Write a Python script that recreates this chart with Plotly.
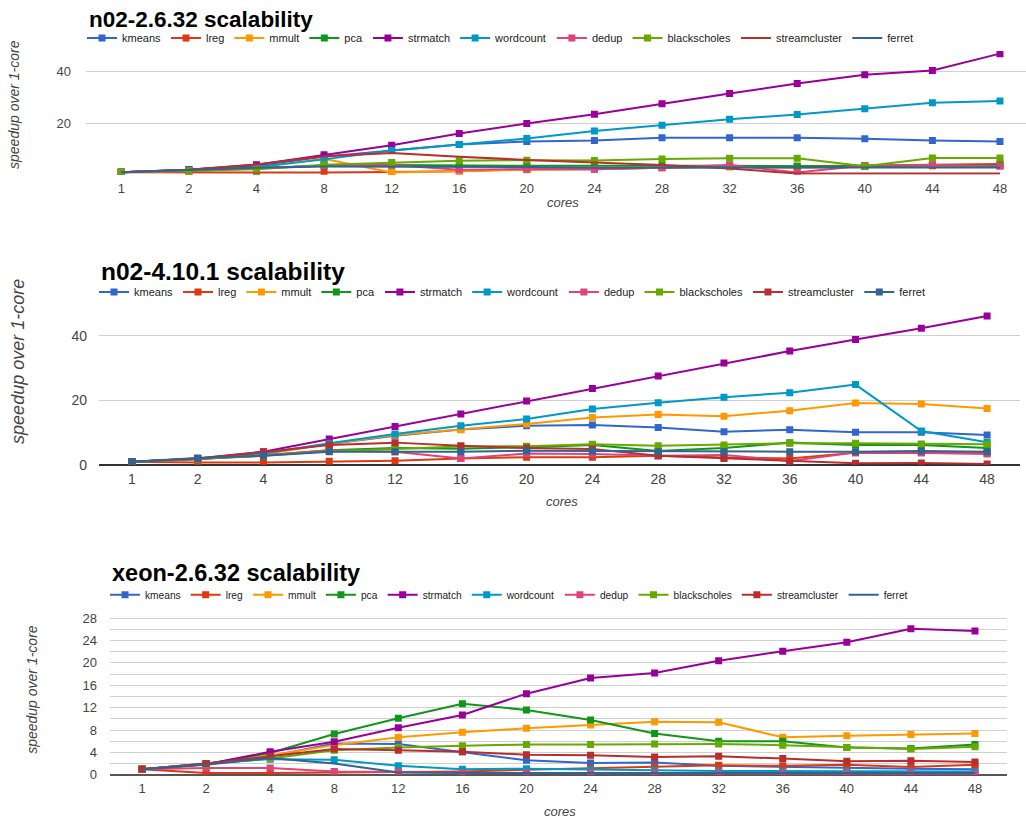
import plotly.graph_objects as go

W, H = 1026, 819
# measured vertical scale of the rendered snapshot (pixels shown / pixels drawn)
VSCALE = 0.9905

cores = ["1", "2", "4", "8", "12", "16", "20", "24", "28", "32", "36", "40", "44", "48"]
series_names = ["kmeans", "lreg", "mmult", "pca", "strmatch", "wordcount",
                "dedup", "blackscholes", "streamcluster", "ferret"]
series_colors = ["#3366cc", "#dc3912", "#ff9900", "#109618", "#990099", "#0099c6",
                 "#dd4477", "#66aa00", "#b82e2e", "#316395"]

# ---- chart 1: n02-2.6.32 ----
c1_kmeans = [1, 2.0, 3.5, 7.0, 9.4, 11.8, 12.9, 13.3, 14.4, 14.4, 14.4, 14.0, 13.3, 12.9]
c1_lreg = [1, 0.9, 0.9, 0.9, 1.1, 1.4, 2.2, 2.2, 2.8, 3.2, 3.3, 3.5, 3.9, 4.2]
c1_mmult = [1, 1.5, 2.8, 6.2, 0.9, 1.5, 2.0, 2.3, 2.8, 3.0, 2.8, 3.2, 3.4, 3.5]
c1_pca = [1, 1.8, 2.8, 3.5, 3.8, 3.6, 3.5, 3.5, 3.6, 3.5, 3.3, 3.3, 3.6, 3.7]
c1_strmatch = [1, 2.0, 3.9, 7.8, 11.5, 16.0, 19.9, 23.5, 27.6, 31.5, 35.4, 38.8, 40.5, 47.0]
c1_wordcount = [1, 1.8, 3.0, 6.0, 9.4, 11.8, 14.1, 17.0, 19.2, 21.6, 23.4, 25.6, 28.0, 28.6]
c1_dedup = [1, 1.5, 2.5, 3.5, 3.8, 2.0, 2.2, 2.2, 2.9, 3.8, 0.9, 3.6, 3.8, 3.3]
c1_blackscholes = [1, 1.6, 2.2, 3.9, 4.8, 5.5, 5.7, 5.6, 6.1, 6.4, 6.4, 3.3, 6.5, 6.5]
c1_streamcluster = [1, 2.0, 4.0, 7.2, 8.5, 7.0, 5.8, 4.8, 3.8, 2.5, 0.5, 0.5, 0.5, 0.5]
c1_ferret = [1, 1.8, 2.8, 3.2, 3.2, 3.2, 3.0, 2.8, 2.9, 2.9, 2.9, 2.9, 2.9, 2.9]

# ---- chart 2: n02-4.10.1 ----
c2_kmeans = [1, 1.8, 3.5, 6.5, 9.0, 11.0, 12.1, 12.4, 11.6, 10.3, 10.9, 10.1, 10.1, 9.3]
c2_lreg = [1, 0.7, 0.7, 1.1, 1.3, 2.0, 2.4, 2.4, 2.8, 2.3, 2.0, 3.8, 3.8, 3.6]
c2_mmult = [1, 1.8, 3.3, 6.5, 9.3, 10.9, 12.7, 14.7, 15.6, 15.1, 16.8, 19.2, 18.9, 17.5]
c2_pca = [1, 1.8, 2.9, 4.5, 5.2, 5.0, 5.5, 6.2, 4.3, 5.2, 6.9, 6.2, 6.2, 5.2]
c2_strmatch = [1, 2.0, 4.1, 8.0, 11.9, 15.8, 19.8, 23.7, 27.6, 31.6, 35.3, 38.9, 42.4, 46.2]
c2_wordcount = [1, 1.8, 3.5, 6.7, 9.6, 12.1, 14.2, 17.3, 19.3, 21.0, 22.4, 24.9, 10.5, 7.0]
c2_dedup = [1, 1.8, 3.0, 4.5, 4.1, 2.0, 3.5, 3.4, 2.8, 3.1, 1.2, 3.8, 3.8, 3.4]
c2_blackscholes = [1, 1.8, 2.8, 4.2, 5.0, 5.7, 5.8, 6.4, 5.9, 6.2, 6.7, 6.7, 6.5, 6.4]
c2_streamcluster = [1, 2.0, 4.0, 6.2, 6.9, 5.9, 5.2, 4.9, 2.8, 2.0, 1.2, 0.5, 0.6, 0.3]
c2_ferret = [1, 2.1, 2.8, 4.1, 4.1, 4.1, 4.4, 4.3, 4.1, 4.1, 4.1, 4.1, 4.3, 4.1]

# ---- chart 3: xeon-2.6.32 ----
c3_kmeans = [1, 2.0, 3.3, 5.6, 5.5, 4.1, 2.6, 2.1, 2.2, 1.6, 1.4, 1.2, 1.1, 1.0]
c3_lreg = [1, 0.3, 0.3, 0.4, 0.4, 0.6, 0.9, 1.2, 1.5, 1.7, 1.6, 1.8, 1.4, 1.8]
c3_mmult = [1, 1.9, 3.5, 5.3, 6.7, 7.6, 8.3, 8.9, 9.5, 9.4, 6.7, 7.0, 7.2, 7.4]
c3_pca = [1, 1.9, 3.9, 7.3, 10.1, 12.7, 11.6, 9.8, 7.4, 6.0, 6.0, 4.9, 4.7, 5.4]
c3_strmatch = [1, 1.9, 4.1, 5.9, 8.4, 10.7, 14.5, 17.3, 18.2, 20.4, 22.1, 23.7, 26.1, 25.7]
c3_wordcount = [1, 2.0, 2.8, 2.7, 1.6, 1.0, 1.1, 0.9, 0.8, 0.7, 0.7, 0.7, 0.7, 0.6]
c3_dedup = [1, 1.2, 1.2, 0.6, 0.5, 0.3, 0.3, 0.3, 0.3, 0.3, 0.3, 0.3, 0.3, 0.2]
c3_blackscholes = [1, 1.9, 2.9, 4.4, 4.9, 5.2, 5.4, 5.4, 5.5, 5.5, 5.3, 4.9, 4.6, 5.0]
c3_streamcluster = [1, 2.0, 3.3, 4.6, 4.4, 4.1, 3.6, 3.5, 3.2, 3.3, 2.9, 2.4, 2.5, 2.3]
c3_ferret = [1, 1.8, 3.0, 2.0, 0.4, 0.3, 0.3, 0.3, 0.3, 0.3, 0.3, 0.3, 0.3, 0.3]

chart_titles = ["n02-2.6.32 scalability", "n02-4.10.1 scalability", "xeon-2.6.32 scalability"]
y_title = "speedup over 1-core"
x_title = "cores"

chart_data = [
    [c1_kmeans, c1_lreg, c1_mmult, c1_pca, c1_strmatch, c1_wordcount, c1_dedup,
     c1_blackscholes, c1_streamcluster, c1_ferret],
    [c2_kmeans, c2_lreg, c2_mmult, c2_pca, c2_strmatch, c2_wordcount, c2_dedup,
     c2_blackscholes, c2_streamcluster, c2_ferret],
    [c3_kmeans, c3_lreg, c3_mmult, c3_pca, c3_strmatch, c3_wordcount, c3_dedup,
     c3_blackscholes, c3_streamcluster, c3_ferret],
]
# series drawn as plain lines (no markers) per chart
no_marker = [{"streamcluster", "ferret"}, set(), {"ferret"}]


def px(x):
    return min(max(x / W, 0), 1)


def py(y):
    return 1 - (y / VSCALE) / H


def pyc(y):
    return min(max(py(y), 0), 1)


# pixel geometry of each plot area
geo = [
    dict(l=86, r=1026, xr=[-0.522, 13.385], y0=174.9, slope=2.58, yr=[0, 48]),
    dict(l=99, r=1020, xr=[-0.5, 13.5], y0=465.0, slope=3.225, yr=[0, 48]),
    dict(l=110, r=1007, xr=[-0.5, 13.5], y0=775.0, slope=5.596, yr=[0, 30.05]),
]

fig = go.Figure()
font_main = "Liberation Sans, Arial, sans-serif"

for ci in range(3):
    sfx = "" if ci == 0 else str(ci + 1)
    leg = "legend" + sfx
    for si, name in enumerate(series_names):
        nm = name in no_marker[ci]
        fig.add_trace(go.Scatter(
            x=cores, y=chart_data[ci][si], name=name,
            mode="lines" if nm else "lines+markers",
            line=dict(color=series_colors[si], width=2),
            marker=dict(symbol="square", size=7, color=series_colors[si]),
            xaxis="x" + sfx, yaxis="y" + sfx, legend=leg,
        ))

layout = dict(
    width=W, height=H, autosize=False,
    margin=dict(l=0, r=0, t=0, b=0),
    paper_bgcolor="white", plot_bgcolor="white",
    font=dict(family=font_main, color="#444"),
    showlegend=True,
)

annotations = []
for ci, g in enumerate(geo):
    sfx = "" if ci == 0 else str(ci + 1)
    ytop = g["y0"] - g["yr"][1] * g["slope"]
    xa = dict(domain=[px(g["l"]), px(g["r"])], range=g["xr"], type="category",
              showgrid=False, zeroline=False, showline=False,
              tickfont=dict(size=13 if ci != 1 else 14, color="#444"), anchor="y" + sfx,
              ticks="", ticklabelstandoff=4)
    if ci == 0:
        ya = dict(domain=[pyc(g["y0"]), pyc(ytop)], range=g["yr"], tickvals=[20, 40],
                  gridcolor="#d0d0d0", zeroline=False, showline=False,
                  tickfont=dict(size=13, color="#444"), ticklabelstandoff=14,
                  anchor="x" + sfx)
    elif ci == 1:
        ya = dict(domain=[pyc(g["y0"]), pyc(ytop)], range=g["yr"], tickvals=[0, 20, 40],
                  gridcolor="#d0d0d0", zeroline=True, zerolinecolor="#333",
                  zerolinewidth=1.5, showline=False,
                  tickfont=dict(size=14, color="#444"), ticklabelstandoff=11,
                  anchor="x" + sfx)
    else:
        ya = dict(domain=[pyc(g["y0"]), pyc(ytop)], range=g["yr"], dtick=4, tick0=0,
                  gridcolor="#d0d0d0", zeroline=True, zerolinecolor="#555",
                  zerolinewidth=1.5, showline=False,
                  minor=dict(dtick=2, showgrid=True, gridcolor="#d0d0d0"),
                  tickfont=dict(size=13, color="#444"), ticklabelstandoff=12,
                  anchor="x" + sfx)
    layout["xaxis" + sfx] = xa
    layout["yaxis" + sfx] = ya

# titles, legends and axis titles positions (pixels)
title_pos = [(87, 20), (99, 272), (110, 573)]
title_size = [22.5, 24.5, 23.5]
legend_pos = [(82, 38), (94, 292), (105, 595)]
legend_size = [11, 11, 10.2]
ytitle_pos = [(14, 105), (18, 362), (32, 690)]
ytitle_size = [14, 18, 14]
xtitle_pos = [(563, 203), (562, 502), (560, 812)]

for ci in range(3):
    tx, ty = title_pos[ci]
    annotations.append(dict(x=px(tx), y=py(ty), xref="paper", yref="paper",
                            xanchor="left", yanchor="middle", showarrow=False,
                            text="<b>" + chart_titles[ci] + "</b>",
                            font=dict(size=title_size[ci], color="#000", family=font_main)))
    yx, yy = ytitle_pos[ci]
    annotations.append(dict(x=px(yx), y=py(yy), xref="paper", yref="paper",
                            xanchor="center", yanchor="middle", showarrow=False,
                            textangle=-90, text="<i>" + y_title + "</i>",
                            font=dict(size=ytitle_size[ci], color="#444", family=font_main)))
    xx, xy = xtitle_pos[ci]
    annotations.append(dict(x=px(xx), y=py(xy), xref="paper", yref="paper",
                            xanchor="center", yanchor="middle", showarrow=False,
                            text="<i>" + x_title + "</i>",
                            font=dict(size=13, color="#444", family=font_main)))
    lx, ly = legend_pos[ci]
    sfx = "" if ci == 0 else str(ci + 1)
    layout["legend" + sfx] = dict(
        x=px(lx), y=py(ly), xanchor="left", yanchor="middle",
        orientation="h", bgcolor="rgba(0,0,0,0)",
        font=dict(size=legend_size[ci], color="#222", family=font_main),
        itemwidth=30, tracegroupgap=0,
    )

layout["annotations"] = annotations
fig.update_layout(**layout)
# remove the default page margin so the 1026x819 figure fills the window exactly
fig.write_html("out.html",
               config={"displayModeBar": False},
               post_script="document.body.style.margin='0px';"
                           "document.body.style.overflow='hidden';")
